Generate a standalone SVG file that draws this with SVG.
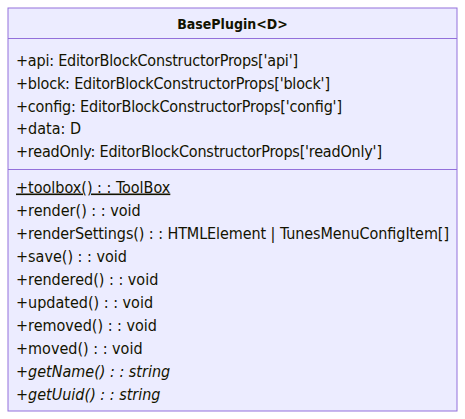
<svg xmlns="http://www.w3.org/2000/svg" width="465" height="419" viewBox="0 0 465 419">
<style>
.box{fill:#ECECFF;stroke:#9370DB;stroke-width:1}
.div{stroke:#9370DB;stroke-width:1}
text{font-family:"DejaVu Sans Condensed","DejaVu Sans",sans-serif;fill:#131300}
.title{font-size:14px;font-weight:bold;text-anchor:middle}
.m{font-size:16px}
.u{text-decoration:underline}
.i{font-style:italic}
</style>
<rect width="465" height="419" fill="#ffffff"/>
<g id="BasePlugin">
<rect class="box" x="8" y="8" width="449" height="403"/>
<line class="div" x1="8" y1="38.5" x2="457" y2="38.5"/>
<line class="div" x1="8" y1="169.5" x2="457" y2="169.5"/>
<text class="title" x="232.5" y="29">BasePlugin&lt;D&gt;</text>
<text class="m" x="16" y="66" textLength="282" lengthAdjust="spacing">+api: EditorBlockConstructorProps['api']</text>
<text class="m" x="16" y="88.8" textLength="314" lengthAdjust="spacing">+block: EditorBlockConstructorProps['block']</text>
<text class="m" x="16" y="111.5" textLength="326" lengthAdjust="spacing">+config: EditorBlockConstructorProps['config']</text>
<text class="m" x="16" y="134.3">+data: D</text>
<text class="m" x="16" y="157" textLength="366" lengthAdjust="spacing">+readOnly: EditorBlockConstructorProps['readOnly']</text>
<text class="m u" x="16" y="192.5">+toolbox() : : ToolBox</text>
<text class="m" x="16" y="215.5">+render() : : void</text>
<text class="m" x="16" y="238.5" textLength="433" lengthAdjust="spacing">+renderSettings() : : HTMLElement | TunesMenuConfigItem[]</text>
<text class="m" x="16" y="261.5">+save() : : void</text>
<text class="m" x="16" y="284.5">+rendered() : : void</text>
<text class="m" x="16" y="307.5">+updated() : : void</text>
<text class="m" x="16" y="330.5">+removed() : : void</text>
<text class="m" x="16" y="353.5">+moved() : : void</text>
<text class="m i" x="16" y="376.5">+getName() : : string</text>
<text class="m i" x="16" y="399.5">+getUuid() : : string</text>
</g>
<g id="connectors"></g>
</svg>
